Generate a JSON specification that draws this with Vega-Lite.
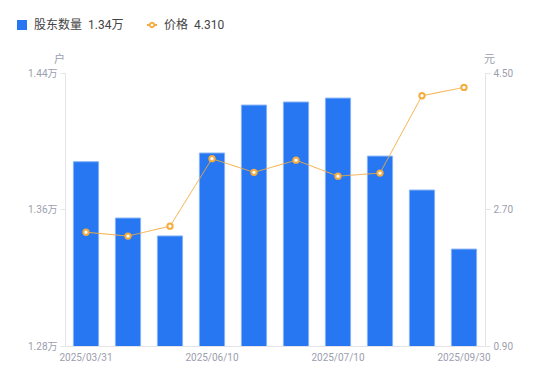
{
  "$schema": "https://vega.github.io/schema/vega-lite/v6.json",
  "width": 420,
  "height": 273,
  "autosize": {"type": "none"},
  "padding": {"left": 65, "top": 73, "right": 65, "bottom": 35},
  "config": {
    "view": {"stroke": null},
    "font": "Roboto, 'Noto Sans CJK SC'",
    "axis": {"labelColor": "#9b9eae", "labelFontSize": 10, "domainColor": "#e4e4e8", "tickColor": "#e4e4e8", "grid": false, "labelFont": "Roboto, 'Noto Sans CJK SC'"},
    "legend": {"labelFontSize": 12, "labelColor": "#444", "labelOffset": 6, "symbolSize": 100}
  },
  "data": {
    "values": [
      {"date": "2025/03/31", "holders": 1.388, "price": 2.40},
      {"date": "2025/04/10", "holders": 1.355, "price": 2.35},
      {"date": "2025/04/30", "holders": 1.3445, "price": 2.48},
      {"date": "2025/06/10", "holders": 1.3931, "price": 3.37},
      {"date": "2025/06/20", "holders": 1.4212, "price": 3.19},
      {"date": "2025/06/30", "holders": 1.423, "price": 3.35},
      {"date": "2025/07/10", "holders": 1.4253, "price": 3.14},
      {"date": "2025/07/31", "holders": 1.3913, "price": 3.18},
      {"date": "2025/08/31", "holders": 1.3714, "price": 4.20},
      {"date": "2025/09/30", "holders": 1.3368, "price": 4.31}
    ]
  },
  "encoding": {
    "x": {
      "field": "date", "type": "ordinal", "sort": null,
      "scale": {"paddingInner": 0.4, "paddingOuter": 0.2},
      "axis": {"title": null, "labelAngle": 0, "ticks": false, "labelPadding": 6,
        "values": ["2025/03/31", "2025/06/10", "2025/07/10", "2025/09/30"]}
    }
  },
  "layer": [
    {
      "mark": {"type": "bar", "stroke": "#86b3f7", "strokeWidth": 1, "clip": true},
      "encoding": {
        "y": {
          "field": "holders", "type": "quantitative",
          "scale": {"domain": [1.28, 1.44], "zero": false, "nice": false},
          "axis": {"title": "户", "titleAngle": 0, "titleX": -6, "titleY": -14, "titleAlign": "center", "titleBaseline": "middle",
            "titleColor": "#9b9eae", "titleFontWeight": "normal", "titleFontSize": 11,
            "values": [1.28, 1.36, 1.44], "labelExpr": "format(datum.value, '.2f') + '万'", "tickSize": 5, "labelPadding": 3}
        },
        "color": {
          "datum": "股东数量",
          "scale": {"domain": ["股东数量"], "range": ["#2677f1"]},
          "legend": {
            "title": null, "orient": "none", "legendX": -49, "legendY": -54,
            "symbolType": "square", "symbolStrokeWidth": 0,
            "labelExpr": "'股东数量\u20021.34万'"
          }
        }
      }
    },
    {
      "layer": [
        {
          "mark": {"type": "line", "strokeWidth": 1, "color": "#f5ac3c"},
          "encoding": {
            "strokeDash": {
              "datum": "价格",
              "scale": {"domain": ["价格"], "range": [[1, 0]]},
              "legend": {
                "title": null, "orient": "none", "legendX": 81, "legendY": -54,
                "symbolType": "M-1,0H-0.45M0.45,0H1M-0.45,0A0.45,0.45,0,1,1,0.45,0A0.45,0.45,0,1,1,-0.45,0Z",
                "symbolStrokeColor": "#f5ac3c", "symbolStrokeWidth": 1.8, "symbolFillColor": "#ffffff",
                "labelExpr": "'价格\u20024.310'"
              }
            }
          }
        },
        {
          "mark": {"type": "point", "filled": false, "color": "#f5ac3c", "fill": "white", "fillOpacity": 1, "opacity": 1, "strokeWidth": 2, "size": 28, "shape": "circle"}
        }
      ],
      "encoding": {
        "y": {
          "field": "price", "type": "quantitative",
          "scale": {"domain": [0.9, 4.5], "zero": false, "nice": false},
          "axis": {"orient": "right", "title": "元", "titleAngle": 0, "titleX": 4, "titleY": -14, "titleAlign": "center", "titleBaseline": "middle",
            "titleColor": "#9b9eae", "titleFontWeight": "normal", "titleFontSize": 11,
            "values": [0.9, 2.7, 4.5], "format": ".2f", "tickSize": 5, "labelPadding": 3}
        }
      }
    }
  ],
  "resolve": {"scale": {"y": "independent"}}
}
